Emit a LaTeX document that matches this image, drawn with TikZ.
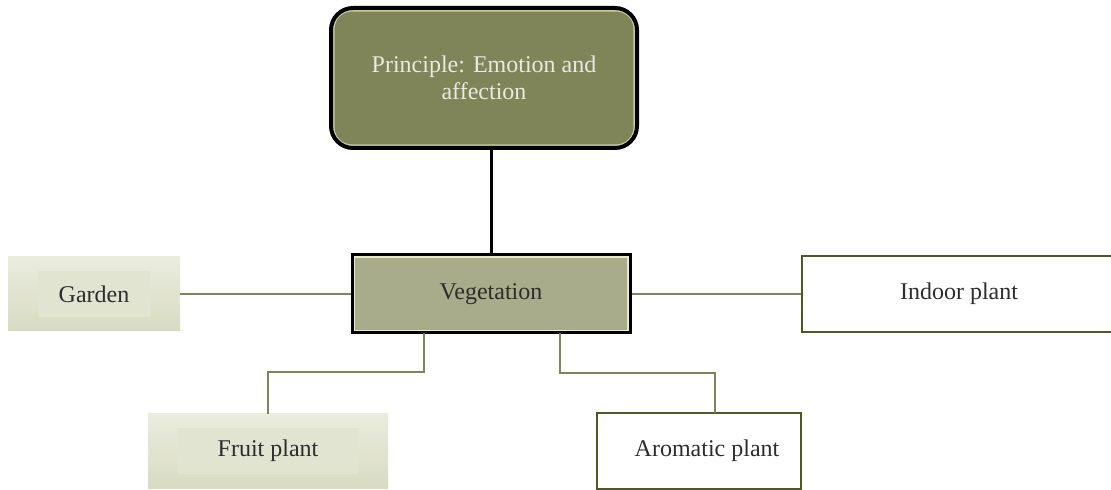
\documentclass[tikz,border=0pt]{standalone}
\usepackage{fontspec}
\setmainfont{Liberation Serif}

\definecolor{headfill}{RGB}{127,132,89}
\definecolor{headline}{RGB}{200,204,152}
\definecolor{headtext}{RGB}{234,234,222}
\definecolor{vegfill}{RGB}{169,172,138}
\definecolor{vegline}{RGB}{232,235,196}
\definecolor{softtop}{RGB}{234,236,222}
\definecolor{softbot}{RGB}{216,219,194}
\definecolor{softin}{RGB}{226,228,210}
\definecolor{boxline}{RGB}{79,88,35}
\definecolor{linkcol}{RGB}{128,132,92}
\definecolor{textcol}{RGB}{45,45,45}

\begin{document}
\begin{tikzpicture}[x=0.5pt,y=-0.5pt,font=\fontsize{12pt}{13.5pt}\selectfont]
    \tikzstyle{headbox}=[rectangle,rounded corners=11pt,draw=black,line width=2pt,fill=headfill,text=headtext,align=center,minimum width=153pt,minimum height=70pt,
        path picture={\draw[headline,line width=0.8pt,rounded corners=9pt] ([shift={(1.4pt,-1.4pt)}]path picture bounding box.north west) rectangle ([shift={(-1.4pt,1.4pt)}]path picture bounding box.south east);}]
    \tikzstyle{mainbox}=[rectangle,draw=black,line width=1.5pt,fill=vegfill,text=textcol,minimum width=139pt,minimum height=39pt,
        path picture={\draw[vegline,line width=0.7pt] ([shift={(1.1pt,-1.1pt)}]path picture bounding box.north west) rectangle ([shift={(-1.1pt,1.1pt)}]path picture bounding box.south east);}]
    \tikzstyle{softbox}=[rectangle,top color=softtop,bottom color=softbot,text=textcol,minimum height=37pt,
        path picture={\fill[softin] ([shift={(15pt,-7pt)}]path picture bounding box.north west) rectangle ([shift={(-15pt,7pt)}]path picture bounding box.south east);}]
    \tikzstyle{plainbox}=[rectangle,draw=boxline,line width=1.3pt,fill=white,text=textcol,minimum height=38pt]
    \tikzstyle{link}=[draw=linkcol,line width=1.4pt]

    \useasboundingbox (0,0) rectangle (1111,490);

    % boxes
    \node[headbox] (principle) at (484,78) {Principle: Emotion and\\affection};
    \node[mainbox] (veg) at (491,294) {Vegetation};
    \node[softbox,minimum width=86pt] (garden) at (94,294) {Garden};
    \node[plainbox,minimum width=157pt] (indoor) at (959,294) {Indoor plant};
    \node[softbox,minimum width=120pt] (fruit) at (268,451) {Fruit plant};
    \node[plainbox,minimum width=102pt] (aromatic) at (699,451) {\hspace*{8pt}Aromatic plant};

    \coordinate (vegfruit) at (424,333);
    \coordinate (vegaroma) at (560,333);
    \coordinate (aromatop) at (715,413);

    % connectors
    \draw[black,line width=1.5pt] (veg.north |- principle.south) -- (veg.north);
    \draw[link] (garden.east) -- (veg.west);
    \draw[link] (veg.east) -- (indoor.west);
    \draw[link] (vegfruit) -- ++(0,39) -| (fruit.north);
    \draw[link] (vegaroma) -- ++(0,40) -| (aromatop);
\end{tikzpicture}
\end{document}
